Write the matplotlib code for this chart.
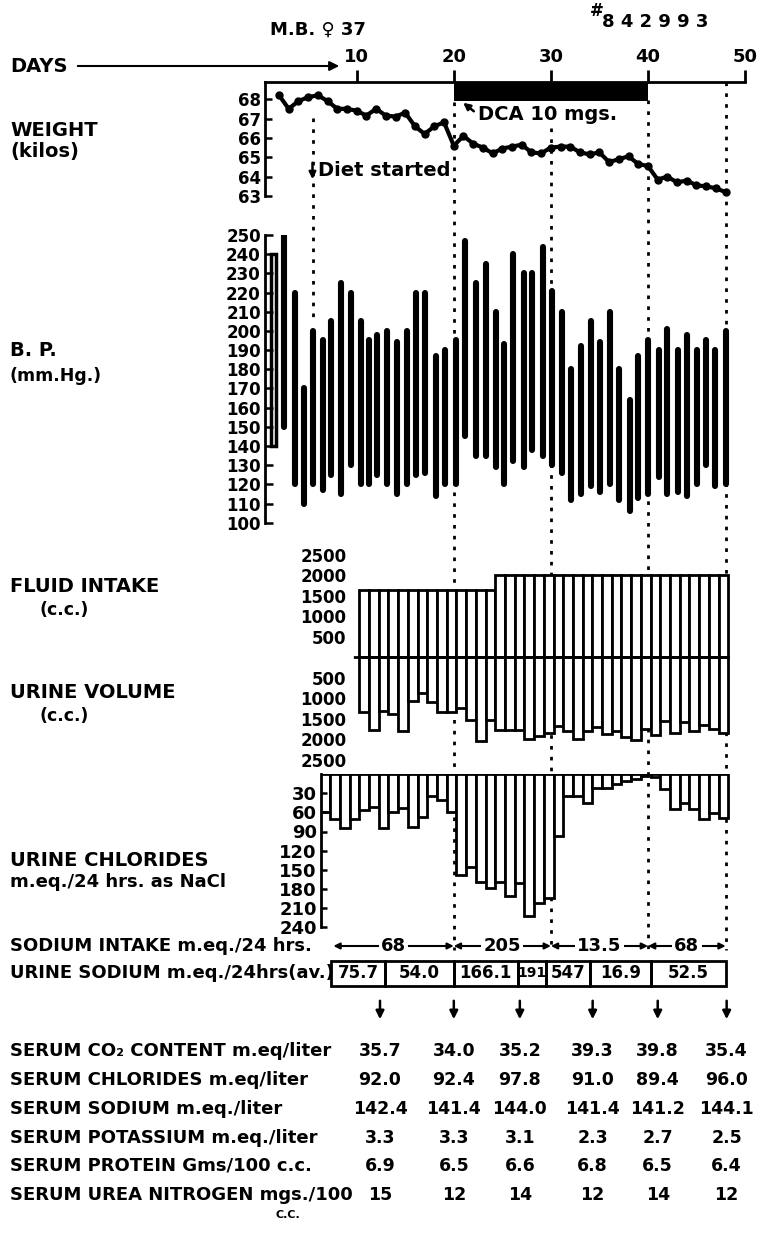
import matplotlib.pyplot as plt
import numpy as np

# ---- data ----
weight_days = list(range(2, 49))
weight_kg = [68.2, 67.5, 67.9, 68.1, 68.2, 67.9, 67.5, 67.5, 67.4, 67.15,
             67.5, 67.15, 67.1, 67.3, 66.6, 66.2, 66.6, 66.8, 65.6, 66.1,
             65.7, 65.5, 65.2, 65.45, 65.55, 65.65, 65.25, 65.2, 65.5, 65.55,
             65.55, 65.25, 65.15, 65.25, 64.75, 64.9, 65.05, 64.65, 64.55, 63.85,
             64.0, 63.7, 63.8, 63.55, 63.5, 63.4, 63.2]

bp_days = [1.4, 2.5, 3.6, 4.6, 5.5, 6.5, 7.4, 8.4, 9.4, 10.4,
           11.3, 12.1, 13.1, 14.2, 15.2, 16.1, 17.0, 18.2, 19.1, 20.2,
           21.2, 22.3, 23.3, 24.3, 25.2, 26.1, 27.2, 28.1, 29.2, 30.1,
           31.1, 32.1, 33.1, 34.1, 35.1, 36.1, 37.0, 38.1, 39.0, 40.0,
           41.1, 42.0, 43.1, 44.0, 45.0, 46.0, 46.9, 48.0]
bp_systolic = [240, 250, 220, 170, 200, 195, 205, 225, 220, 205,
               195, 198, 200, 194, 200, 220, 220, 187, 190, 195,
               247, 225, 235, 210, 193, 240, 230, 230, 244, 221,
               210, 180, 192, 205, 194, 210, 180, 164, 187, 195,
               190, 201, 190, 198, 190, 195, 190, 200]
bp_diastolic = [140, 150, 120, 110, 120, 117, 125, 115, 130, 120,
                120, 125, 120, 115, 120, 125, 126, 114, 120, 120,
                145, 135, 135, 129, 120, 132, 129, 138, 135, 130,
                126, 112, 115, 119, 116, 120, 112, 106, 113, 115,
                124, 115, 116, 114, 120, 130, 119, 120]

fluid_days = list(range(11, 49))
fluid_intake = [1650] * 14 + [2000] * 24
urine_volume = [1325, 1775, 1300, 1375, 1800, 1075, 875, 1100, 1325, 1325,
                1225, 1525, 2050, 1525, 1775, 1775, 1775, 2000, 1925, 1850,
                1675, 1800, 2000, 1800, 1700, 1875, 1800, 1950, 2025, 1750,
                1900, 1550, 1850, 1575, 1800, 1650, 1750, 1850]

cl_days = list(range(7, 49))
urine_cl = [60, 70, 85, 70, 57, 52, 85, 59, 53, 83,
            67, 35, 40, 60, 158, 145, 169, 178, 169, 192,
            171, 222, 202, 195, 97, 35, 35, 45, 21, 21,
            15, 10, 7, 3, 5, 24, 54, 45, 54, 70, 61, 69]

dca_period = (20, 40)
diet_day = 5.5
marker_days = [20, 30, 40, 48]

na_intake_bounds = [7.6, 20, 30, 40, 48]
na_intake_vals = ["68", "205", "13.5", "68"]
urine_na_bounds = [7.4, 12.9, 20, 26.6, 29.5, 34.0, 40.3, 48]
urine_na_vals = ["75.7", "54.0", "166.1", "191", "547", "16.9", "52.5"]

serum_days = [12.4, 20, 26.8, 34.3, 41.0, 48.1]
serum_rows = [
    ("SERUM CO\u2082 CONTENT m.eq/liter", ["35.7", "34.0", "35.2", "39.3", "39.8", "35.4"]),
    ("SERUM CHLORIDES m.eq/liter", ["92.0", "92.4", "97.8", "91.0", "89.4", "96.0"]),
    ("SERUM SODIUM m.eq./liter", ["142.4", "141.4", "144.0", "141.4", "141.2", "144.1"]),
    ("SERUM POTASSIUM m.eq./liter", ["3.3", "3.3", "3.1", "2.3", "2.7", "2.5"]),
    ("SERUM PROTEIN Gms/100 c.c.", ["6.9", "6.5", "6.6", "6.8", "6.5", "6.4"]),
    ("SERUM UREA NITROGEN mgs./100", ["15", "12", "14", "12", "14", "12"]),
]

# ---- layout helpers (pixel boxes, y from top) ----
plt.rcParams['font.family'] = ['DejaVu Sans']
plt.rcParams['font.weight'] = 'bold'
W, H = 760, 1236
X0, PPD = 259.6, 9.71          # pixel of day 0, pixels per day
PT = 0.72                      # points per pixel

fig = plt.figure(figsize=(W / 100, H / 100), dpi=100)


def day(px):
    return (px - X0) / PPD


def panel(x0, y0, x1, y1):
    ax = fig.add_axes([x0 / W, 1 - y1 / H, (x1 - x0) / W, (y1 - y0) / H])
    ax.set_xlim(day(x0), day(x1))
    ax.patch.set_visible(False)
    for s in ax.spines.values():
        s.set_visible(False)
    ax.set_xticks([])
    return ax


# background axes in pixel-y / day-x units for lines and text
bg = fig.add_axes([0, 0, 1, 1], zorder=-1)
bg.set_xlim(day(0), day(W))
bg.set_ylim(H, 0)
bg.axis('off')

dot = (0, (1.3, 2.6))
for d, y0, y1 in [(diet_day, 118, 318)] + [(d, t, 950) for d, t in zip(marker_days, [102, 128, 100, 82])]:
    bg.vlines(d, y0, y1, colors='black', lw=2, linestyles=[dot])

# ---- weight ----
axw = panel(265, 81.7, 745, 196)
axw.set_ylim(63, 68.9)
axw.plot(weight_days, weight_kg, '-o', color='black', lw=3, ms=5)
axw.bar((dca_period[0] + dca_period[1]) / 2, 1.0, bottom=67.9,
        width=dca_period[1] - dca_period[0], color='black')
axw.spines['left'].set_visible(True)
axw.spines['top'].set_visible(True)
for s in ('left', 'top'):
    axw.spines[s].set_linewidth(2)
axw.set_yticks(range(63, 69))
axw.tick_params(axis='y', direction='in', length=7 * PT, width=1.8, labelsize=12, pad=3)
axw.xaxis.set_ticks_position('top')
axw.set_xticks([10, 20, 30, 40, 50])
axw.tick_params(axis='x', direction='out', length=12 * PT, width=2, labelsize=13, pad=3)

# ---- blood pressure ----
axb = panel(265, 235, 745, 522.7)
axb.set_ylim(100, 250)
axb.vlines(bp_days[1:], bp_diastolic[1:], bp_systolic[1:], colors='black', lw=4.4,
           capstyle='round')
axb.bar(bp_days[0], bp_systolic[0] - bp_diastolic[0], bottom=bp_diastolic[0],
        width=0.5, fill=False, edgecolor='black', lw=2.5)
axb.spines['left'].set_visible(True)
axb.spines['left'].set_linewidth(2)
axb.set_yticks(range(100, 251, 10))
axb.tick_params(axis='y', direction='in', length=8 * PT, width=1.8, labelsize=12, pad=3)

# ---- fluid intake / urine volume ----
axf = panel(352, 554.8, 745, 759.8)
axf.set_ylim(-2500, 2500)
left = [d - 0.73 for d in fluid_days]
axf.bar(left, fluid_intake, width=1, align='edge', facecolor='white', edgecolor='black', lw=2)
axf.bar(left, [-u for u in urine_volume], width=1, align='edge', facecolor='white',
        edgecolor='black', lw=2)
axf.hlines(0, day(270), left[0], colors='black', lw=2, linestyles=[(0, (2.5, 2.5))])
axf.hlines(0, left[0], left[-1] + 1, colors='black', lw=2)
ticks = [-2500, -2000, -1500, -1000, -500, 500, 1000, 1500, 2000, 2500]
axf.set_yticks(ticks)
axf.set_yticklabels([str(abs(t)) for t in ticks])
axf.tick_params(axis='y', direction='out', length=0, labelsize=12, pad=4)

# ---- urine chlorides ----
axc = panel(321, 774.2, 745, 927)
axc.set_ylim(240, 0)
axc.bar([d - 0.73 for d in cl_days], urine_cl, width=1, align='edge', facecolor='white',
        edgecolor='black', lw=2)
axc.spines['left'].set_visible(True)
axc.spines['left'].set_linewidth(2)
axc.set_yticks(range(30, 241, 30))
axc.tick_params(axis='y', direction='in', length=6 * PT, width=1.8, labelsize=13, pad=3)

# ---- labels ----
def label(x, y, s, size=14, **kw):
    bg.text(day(x), y, s, fontsize=size, fontweight='bold', va='center', ha='left', **kw)


label(270, 30, "M.B. \u2640 37", 13)
label(590, 11, "#", 12)
label(602, 22, "8 4 2 9 9 3", 13)
label(10, 66, "DAYS", 14)
bg.annotate('', xy=(day(342), 66), xytext=(day(75), 66),
            arrowprops=dict(arrowstyle='-|>', lw=1.5, color='black', mutation_scale=14))
label(10, 130, "WEIGHT")
label(10, 151, "(kilos)")
label(10, 351, "B. P.")
label(10, 376, "(mm.Hg.)", 12.5)
label(10, 587, "FLUID INTAKE")
label(40, 610, "(c.c.)", 12.5)
label(10, 692, "URINE VOLUME")
label(40, 716, "(c.c.)", 12.5)
label(10, 861, "URINE CHLORIDES")
label(10, 882, "m.eq./24 hrs. as NaCl", 13)

label(478, 115, "DCA 10 mgs.", 14)
bg.annotate('', xy=(day(461), 101), xytext=(day(476), 113),
            arrowprops=dict(arrowstyle='-|>', lw=1.8, color='black', mutation_scale=10))
label(318, 170, "Diet started", 14)
bg.annotate('', xy=(day(312.5), 182), xytext=(day(312.5), 160),
            arrowprops=dict(arrowstyle='-|>', lw=1.8, color='black', mutation_scale=10))

# sodium intake arrows
y_in = 946
label(10, y_in, "SODIUM INTAKE m.eq./24 hrs.", 13)
for a, b, v in zip(na_intake_bounds[:-1], na_intake_bounds[1:], na_intake_vals):
    bg.annotate('', xy=(a, y_in), xytext=(b, y_in),
                arrowprops=dict(arrowstyle='<|-|>', lw=1.5, color='black', mutation_scale=9,
                                shrinkA=0, shrinkB=0))
    bg.text((a + b) / 2, y_in, v, fontsize=13, fontweight='bold', ha='center', va='center',
            bbox=dict(facecolor='white', edgecolor='none', pad=1.5))

# urine sodium boxes
y_na = 973
label(10, y_na, "URINE SODIUM m.eq./24hrs(av.)", 13)
bg.bar(urine_na_bounds[:-1], 25, bottom=y_na - 12.5, width=np.diff(urine_na_bounds),
       align='edge', fill=False, edgecolor='black', lw=2)
for a, b, v in zip(urine_na_bounds[:-1], urine_na_bounds[1:], urine_na_vals):
    bg.text((a + b) / 2, y_na, v, fontsize=12 if b - a > 4 else 10, fontweight='bold',
            ha='center', va='center')

# down arrows and serum table
for d in serum_days:
    bg.annotate('', xy=(d, 1022), xytext=(d, 998),
                arrowprops=dict(arrowstyle='-|>', lw=1.8, color='black', mutation_scale=12))
row_y = [1051, 1080, 1109, 1138, 1166, 1195]
for y, (name, vals) in zip(row_y, serum_rows):
    label(10, y, name, 13)
    for d, v in zip(serum_days, vals):
        bg.text(d, y, v, fontsize=12.5, fontweight='bold', ha='center', va='center')
label(276, 1215, "C.C.", 8)

fig.savefig('out.png', dpi=100)
